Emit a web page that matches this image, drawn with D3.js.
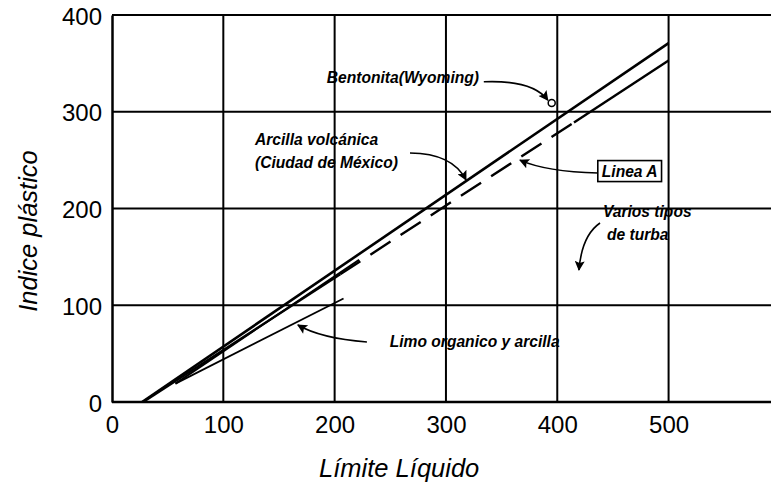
<!DOCTYPE html>
<html>
<head>
<meta charset="utf-8">
<script src="https://cdn.jsdelivr.net/npm/d3@7"></script>
<style>
  body { margin: 0; background: #fff; }
  svg { display: block; font-family: "Liberation Sans", Arial, sans-serif; }
  .tick text { font-size: 24px; fill: #000; }
  .note { font-size: 15.6px; font-style: italic; font-weight: bold; fill: #000; }
  .title { font-size: 25.5px; font-style: italic; fill: #000; }
</style>
</head>
<body>
<svg id="chart" width="771" height="486"></svg>
<script>
// chart values (LL = límite líquido, PI = índice plástico)
var xTicks = [0, 100, 200, 300, 400, 500];
var yTicks = [0, 100, 200, 300, 400];

// upper solid line
var upperLL = [27, 500];
var upperPI = [0, 371];

// línea A : solid, then dashed, then solid again
var lineaASolidLL = [28, 205];
var lineaASolidPI = [0, 132];
var lineaADashLL = [205, 415];
var lineaADashPI = [132, 289];
var lineaAEndLL = [415, 500];
var lineaAEndPI = [289, 353];

// short band next to the lines
var bandLL = [57, 222];
var bandPI = [19, 147];

// limo orgánico y arcilla
var limoLL = [57, 208];
var limoPI = [19, 107];

// bentonita point
var bentonitaLL = [395];
var bentonitaPI = [309];

var notes = [
  { lines: ['Bentonita(Wyoming)'], ll: 193, pi: 330 },
  { lines: ['Arcilla volcánica', '(Ciudad de México)'], ll: 128.5, pi: 266 },
  { lines: ['Linea A'], ll: 440, pi: 233, boxed: true },
  { lines: ['Varios tipos', 'de turba'], ll: 441, pi: 191, indent: 4 },
  { lines: ['Limo organico y arcilla'], ll: 249.5, pi: 57 }
];

// arrows: start, control, end (data units)
var arrows = [
  [[334, 331], [378, 333], [391.5, 312]],
  [[267.7, 257.4], [306, 257], [318, 229.5]],
  [[436.6, 236.7], [390, 238], [366.5, 250]],
  [[438.4, 185], [422, 172], [419.5, 136.4]],
  [[229, 62], [187, 66], [167, 79.6]]
];

var svg = d3.select('#chart');
var plotLeft = 112, plotRight = 771, plotTop = 15, plotBottom = 402;

var x = d3.scaleLinear().domain([0, 592]).range([plotLeft, plotRight]);
var y = d3.scaleLinear().domain([0, 400]).range([plotBottom, plotTop]);

svg.append('defs')
  .append('marker')
  .attr('id', 'head')
  .attr('viewBox', '0 0 10 10')
  .attr('refX', 9)
  .attr('refY', 5)
  .attr('markerWidth', 13)
  .attr('markerHeight', 10)
  .attr('markerUnits', 'userSpaceOnUse')
  .attr('orient', 'auto')
  .append('path')
  .attr('d', 'M0,0 L10,5 L0,10 L2,5 Z')
  .attr('fill', '#000');

// grid
var grid = svg.append('g');
grid.selectAll('.vgrid')
  .data(xTicks.filter(function(d) { return d > 0; }))
  .enter().append('line')
  .attr('x1', x).attr('x2', x)
  .attr('y1', plotTop).attr('y2', plotBottom)
  .attr('stroke', '#000').attr('stroke-width', 2);
grid.selectAll('.hgrid')
  .data(yTicks.filter(function(d) { return d > 0; }))
  .enter().append('line')
  .attr('x1', plotLeft).attr('x2', plotRight)
  .attr('y1', y).attr('y2', y)
  .attr('stroke', '#000').attr('stroke-width', 2);

// axes
var xAxis = svg.append('g')
  .attr('transform', 'translate(0,' + plotBottom + ')')
  .call(d3.axisBottom(x).tickValues(xTicks).tickSize(0).tickPadding(14).tickFormat(d3.format('d')));
xAxis.select('.domain').attr('stroke-width', 2.5).attr('d', 'M' + plotLeft + ',0H' + plotRight);

var yAxis = svg.append('g')
  .attr('transform', 'translate(' + plotLeft + ',0)')
  .call(d3.axisLeft(y).tickValues(yTicks).tickSize(0).tickPadding(10).tickFormat(d3.format('d')));
yAxis.select('.domain').attr('stroke-width', 2.5);
yAxis.selectAll('.tick text').attr('dy', '0.38em');

svg.append('text').attr('class', 'title')
  .attr('x', x(258)).attr('y', 477)
  .attr('text-anchor', 'middle')
  .text('Límite Líquido');
svg.append('text').attr('class', 'title')
  .attr('transform', 'translate(37,231) rotate(-90)')
  .attr('text-anchor', 'middle')
  .text('Indice plástico');

// data lines
function seg(lls, pis) {
  return lls.map(function(d, i) { return [d, pis[i]]; });
}
var line = d3.line().x(function(d) { return x(d[0]); }).y(function(d) { return y(d[1]); });

svg.append('path').datum(seg(bandLL, bandPI))
  .attr('d', line).attr('fill', 'none').attr('stroke', '#000').attr('stroke-width', 2);
svg.append('path').datum(seg(limoLL, limoPI))
  .attr('d', line).attr('fill', 'none').attr('stroke', '#000').attr('stroke-width', 1.8);
svg.append('path').datum(seg(upperLL, upperPI))
  .attr('d', line).attr('fill', 'none').attr('stroke', '#000').attr('stroke-width', 2.6);
svg.append('path').datum(seg(lineaASolidLL, lineaASolidPI))
  .attr('d', line).attr('fill', 'none').attr('stroke', '#000').attr('stroke-width', 2.4);
svg.append('path').datum(seg(lineaADashLL, lineaADashPI))
  .attr('d', line).attr('fill', 'none').attr('stroke', '#000').attr('stroke-width', 2.4)
  .attr('stroke-dasharray', '24,12');
svg.append('path').datum(seg(lineaAEndLL, lineaAEndPI))
  .attr('d', line).attr('fill', 'none').attr('stroke', '#000').attr('stroke-width', 2.4);

svg.selectAll('.bentonita')
  .data(bentonitaLL)
  .enter().append('circle')
  .attr('cx', function(d) { return x(d); })
  .attr('cy', function(d, i) { return y(bentonitaPI[i]); })
  .attr('r', 3.5)
  .attr('fill', '#fff').attr('stroke', '#000').attr('stroke-width', 1.5);

// annotations
arrows.forEach(function(a) {
  svg.append('path')
    .attr('d', 'M' + x(a[0][0]) + ',' + y(a[0][1]) +
      'Q' + x(a[1][0]) + ',' + y(a[1][1]) + ' ' + x(a[2][0]) + ',' + y(a[2][1]))
    .attr('fill', 'none').attr('stroke', '#000').attr('stroke-width', 1.6)
    .attr('marker-end', 'url(#head)');
});

notes.forEach(function(n) {
  var t = svg.append('text').attr('class', 'note')
    .attr('x', x(n.ll)).attr('y', y(n.pi));
  n.lines.forEach(function(s, i) {
    t.append('tspan')
      .attr('x', x(n.ll) + (i > 0 && n.indent ? n.indent : 0))
      .attr('dy', i === 0 ? 0 : 23)
      .text(s);
  });
  if (n.boxed) {
    var b = t.node().getBBox();
    svg.insert('rect', 'text.note')
      .attr('x', b.x - 4).attr('y', b.y - 2)
      .attr('width', b.width + 8).attr('height', b.height + 4)
      .attr('fill', '#fff').attr('stroke', '#000').attr('stroke-width', 1.6);
  }
});
</script>
</body>
</html>
